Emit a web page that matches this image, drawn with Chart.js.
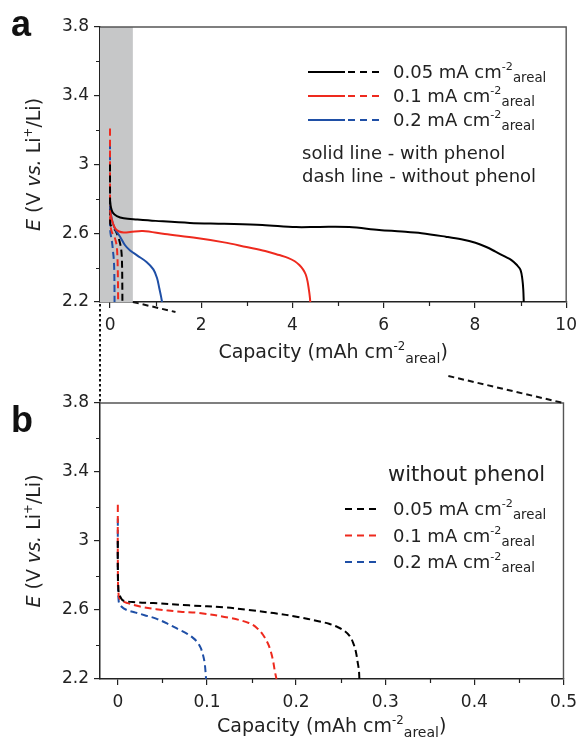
<!DOCTYPE html>
<html>
<head>
<meta charset="utf-8">
<script src="https://cdn.jsdelivr.net/npm/chart.js@4.4.1/dist/chart.umd.min.js"></script>
<style>
  html, body { margin: 0; padding: 0; background: #fff; }
  #wrap { position: relative; width: 584px; height: 740px; }
  canvas { position: absolute; left: 0; top: 0; }
</style>
</head>
<body>
<div id="wrap">
  <canvas id="chartA" width="584" height="740"></canvas>
  <canvas id="chartB" width="584" height="740"></canvas>
</div>
<script>
// current densities, mA cm-2 (areal)
const currents = ['0.05', '0.1', '0.2'];
const colors = ['#000000', '#ee2a1e', '#1f4fa6'];

// with phenol (solid lines, panel a)
const capSolid005 = [0, 0.02, 0.06, 0.15, 0.3, 0.6, 1.0, 1.75, 2.5, 3.34, 4.08, 4.6, 5.24, 5.9, 6.4, 6.83, 7.36, 7.7, 8.01, 8.25, 8.45, 8.65, 8.8, 8.92, 9.0, 9.04, 9.06, 9.07];
const eSolid005   = [2.79, 2.75, 2.72, 2.70, 2.687, 2.68, 2.672, 2.66, 2.655, 2.648, 2.636, 2.637, 2.636, 2.619, 2.61, 2.60, 2.58, 2.565, 2.545, 2.52, 2.493, 2.465, 2.444, 2.415, 2.386, 2.33, 2.27, 2.2];
const capSolid01  = [0, 0.02, 0.06, 0.12, 0.2, 0.3, 0.44, 0.72, 1.2, 1.9, 2.5, 2.99, 3.4, 3.71, 3.9, 4.05, 4.15, 4.23, 4.29, 4.33, 4.36, 4.38, 4.39];
const eSolid01    = [2.735, 2.70, 2.66, 2.625, 2.61, 2.605, 2.607, 2.613, 2.595, 2.572, 2.547, 2.52, 2.497, 2.473, 2.457, 2.437, 2.415, 2.39, 2.36, 2.32, 2.27, 2.23, 2.2];
const capSolid02  = [0, 0.02, 0.06, 0.12, 0.22, 0.33, 0.44, 0.6, 0.8, 0.95, 1.03, 1.08, 1.12, 1.14];
const eSolid02    = [2.76, 2.71, 2.66, 2.62, 2.58, 2.53, 2.50, 2.47, 2.433, 2.39, 2.34, 2.28, 2.23, 2.2];

// without phenol (dashed lines, panels a and b)
const capDash005 = [0, 0, 0.001, 0.003, 0.006, 0.02, 0.04, 0.08, 0.12, 0.147, 0.175, 0.202, 0.225, 0.237, 0.247, 0.254, 0.26, 0.264, 0.267, 0.269, 0.2705, 0.271];
const eDash005   = [3.0, 2.85, 2.70, 2.675, 2.655, 2.645, 2.64, 2.627, 2.615, 2.60, 2.582, 2.56, 2.535, 2.52, 2.50, 2.48, 2.45, 2.41, 2.36, 2.30, 2.25, 2.2];
const capDash01  = [0, 0, 0.001, 0.004, 0.011, 0.025, 0.043, 0.07, 0.091, 0.125, 0.147, 0.156, 0.163, 0.168, 0.171, 0.174, 0.176, 0.178];
const eDash01    = [3.21, 2.9, 2.68, 2.655, 2.64, 2.62, 2.605, 2.59, 2.583, 2.555, 2.525, 2.496, 2.455, 2.41, 2.37, 2.31, 2.25, 2.2];
const capDash02  = [0, 0, 0.001, 0.004, 0.01, 0.02, 0.03, 0.043, 0.056, 0.069, 0.077, 0.084, 0.089, 0.093, 0.0955, 0.0975, 0.099];
const eDash02    = [3.13, 2.85, 2.65, 2.62, 2.60, 2.585, 2.57, 2.55, 2.52, 2.485, 2.465, 2.44, 2.415, 2.38, 2.34, 2.29, 2.2];

// axes
const yTicks = [2.2, 2.6, 3.0, 3.4, 3.8];
const yMinor = [2.4, 2.8, 3.2, 3.6];
const xTicksA = [0, 2, 4, 6, 8, 10];
const xMinorA = [1, 3, 5, 7, 9];
const xTicksB = [0, 0.1, 0.2, 0.3, 0.4, 0.5];
const xMinorB = [0.05, 0.15, 0.25, 0.35, 0.45];

const FONT = '"DejaVu Sans", sans-serif';
const INK = '#222';

function fontFor(kind, size) {
  if (kind === 'sup') return (size * 0.62) + 'px ' + FONT;
  if (kind === 'sub') return (size * 0.74) + 'px ' + FONT;
  if (kind === 'i') return 'italic ' + size + 'px ' + FONT;
  return size + 'px ' + FONT;
}

// draws text made of [text, kind] parts, kind = n / i / sup / sub
function drawRich(ctx, parts, x, y, size, align) {
  ctx.save();
  ctx.fillStyle = INK;
  ctx.textBaseline = 'alphabetic';
  ctx.textAlign = 'left';
  let w = 0;
  parts.forEach(p => { ctx.font = fontFor(p[1], size); w += ctx.measureText(p[0]).width; });
  let cx = align === 'center' ? x - w / 2 : x;
  parts.forEach(p => {
    ctx.font = fontFor(p[1], size);
    const dy = p[1] === 'sup' ? -size * 0.42 : p[1] === 'sub' ? size * 0.24 : 0;
    ctx.fillText(p[0], cx, y + dy);
    cx += ctx.measureText(p[0]).width;
  });
  ctx.restore();
}

const unitParts = c => [[c + ' mA cm', 'n'], ['-2', 'sup'], ['areal', 'sub']];
const xTitle = [['Capacity (mAh cm', 'n'], ['-2', 'sup'], ['areal', 'sub'], [')', 'n']];
const yTitle = [['E', 'i'], [' (V ', 'n'], ['vs.', 'i'], [' Li', 'n'], ['+', 'sup'], ['/Li)', 'n']];

function line(cap, e, color, dashed) {
  return {
    data: cap.map((c, i) => ({ x: c, y: e[i] })),
    borderColor: color,
    borderWidth: 2,
    borderDash: dashed ? [7, 4] : [],
    pointRadius: 0,
    showLine: true,
    fill: false,
    tension: 0.35
  };
}

function axis(min, max, ticks, fitProp, fitVal, pad) {
  return {
    type: 'linear', min: min, max: max,
    afterBuildTicks: s => { s.ticks = ticks.map(v => ({ value: v })); },
    afterFit: s => { s[fitProp] = fitVal; },
    ticks: {
      font: { family: FONT, size: 17 }, color: INK, padding: pad,
      autoSkip: false, maxRotation: 0,
      callback: v => String(Math.round(v * 100) / 100)
    },
    grid: { display: true, drawOnChartArea: false, drawTicks: true, tickLength: 6, color: INK, lineWidth: 1.2 },
    border: { display: true, color: INK, width: 1.5 }
  };
}

function frame(chart, xMinor) {
  const { ctx, chartArea: a, scales: { x, y } } = chart;
  ctx.save();
  ctx.strokeStyle = INK;
  ctx.lineWidth = 1.2;
  ctx.beginPath();
  xMinor.forEach(v => {
    const px = Math.round(x.getPixelForValue(v)) + 0.5;
    ctx.moveTo(px, a.bottom); ctx.lineTo(px, a.bottom + 4);
  });
  yMinor.forEach(v => {
    const py = Math.round(y.getPixelForValue(v)) + 0.5;
    ctx.moveTo(a.left, py); ctx.lineTo(a.left - 4, py);
  });
  ctx.stroke();
  ctx.strokeStyle = '#555';
  ctx.lineWidth = 1.4;
  ctx.beginPath();
  ctx.moveTo(a.left, a.top); ctx.lineTo(a.right, a.top); ctx.lineTo(a.right, a.bottom);
  ctx.stroke();
  ctx.restore();
}

function titles(chart, label, labelY, titleOff) {
  const { ctx, chartArea: a } = chart;
  drawRich(ctx, xTitle, (a.left + a.right) / 2, a.bottom + titleOff, 19, 'center');
  ctx.save();
  ctx.translate(33, (a.top + a.bottom) / 2);
  ctx.rotate(-Math.PI / 2);
  drawRich(ctx, yTitle, 0, 7, 19, 'center');
  ctx.restore();
  ctx.save();
  ctx.fillStyle = '#111';
  ctx.font = 'bold 36px "Liberation Sans", sans-serif';
  ctx.textBaseline = 'alphabetic';
  ctx.fillText(label, 11, labelY);
  ctx.restore();
}

function legendLine(ctx, x0, x1, y, color, dashed) {
  ctx.save();
  ctx.strokeStyle = color;
  ctx.lineWidth = 2.2;
  ctx.setLineDash(dashed ? [7, 5] : []);
  ctx.beginPath(); ctx.moveTo(x0, y); ctx.lineTo(x1, y); ctx.stroke();
  ctx.restore();
}

const zoomMax = xTicksB[xTicksB.length - 1];

const chartA = new Chart(document.getElementById('chartA'), {
  type: 'scatter',
  data: {
    datasets: [
      line(capSolid005, eSolid005, colors[0], false),
      line(capSolid01, eSolid01, colors[1], false),
      line(capSolid02, eSolid02, colors[2], false),
      line(capDash005, eDash005, colors[0], true),
      line(capDash01, eDash01, colors[1], true),
      line(capDash02, eDash02, colors[2], true)
    ]
  },
  options: {
    responsive: false,
    animation: false,
    events: [],
    layout: { padding: { left: 0, top: 27, right: 16, bottom: 370 } },
    scales: {
      x: axis(-0.22, 10, xTicksA, 'height', 68, 7),
      y: axis(2.2, 3.8, yTicks, 'width', 100, 5)
    },
    plugins: { legend: { display: false }, tooltip: { enabled: false } }
  },
  plugins: [{
    id: 'panelA',
    beforeDatasetsDraw(chart) {
      const { ctx, chartArea: a, scales: { x } } = chart;
      ctx.save();
      ctx.fillStyle = '#c6c7c8';
      ctx.fillRect(a.left, a.top, x.getPixelForValue(zoomMax) - a.left, a.bottom - a.top);
      ctx.restore();
    },
    afterDraw(chart) {
      const ctx = chart.ctx;
      frame(chart, xMinorA);
      titles(chart, 'a', 36, 56);
      currents.forEach((c, i) => {
        const yy = 72 + i * 24;
        legendLine(ctx, 308, 345, yy, colors[i], false);
        legendLine(ctx, 348, 381, yy, colors[i], true);
        drawRich(ctx, unitParts(c), 393, yy + 6, 18, 'left');
      });
      drawRich(ctx, [['solid line - with phenol', 'n']], 302, 159, 18, 'left');
      drawRich(ctx, [['dash line - without phenol', 'n']], 302, 182, 18, 'left');
    }
  }]
});

const chartB = new Chart(document.getElementById('chartB'), {
  type: 'scatter',
  data: {
    datasets: [
      line(capDash005, eDash005, colors[0], true),
      line(capDash01, eDash01, colors[1], true),
      line(capDash02, eDash02, colors[2], true)
    ]
  },
  options: {
    responsive: false,
    animation: false,
    events: [],
    layout: { padding: { left: 0, top: 403, right: 16, bottom: 0 } },
    scales: {
      x: axis(-0.02, zoomMax, xTicksB, 'height', 61, 7),
      y: axis(2.2, 3.8, yTicks, 'width', 100, 5)
    },
    plugins: { legend: { display: false }, tooltip: { enabled: false } }
  },
  plugins: [{
    id: 'panelB',
    afterDraw(chart) {
      const ctx = chart.ctx;
      const A = chartA.chartArea, B = chart.chartArea;
      frame(chart, xMinorB);
      titles(chart, 'b', 432, 53);
      drawRich(ctx, [['without phenol', 'n']], 388, 481, 21, 'left');
      currents.forEach((c, i) => {
        const yy = 509 + i * 26.5;
        legendLine(ctx, 345, 381, yy, colors[i], true);
        drawRich(ctx, unitParts(c), 393, yy + 6, 18, 'left');
      });
      // zoom connectors between panels
      ctx.save();
      ctx.strokeStyle = '#111';
      ctx.lineWidth = 2;
      ctx.setLineDash([2.5, 2.5]);
      ctx.beginPath(); ctx.moveTo(A.left, A.bottom + 2); ctx.lineTo(B.left, B.top); ctx.stroke();
      const x0 = chartA.scales.x.getPixelForValue(zoomMax), y0 = A.bottom;
      const x1 = B.right, y1 = B.top;
      const at = yy => x0 + (x1 - x0) * (yy - y0) / (y1 - y0);
      const gapTop = y0 + 10, gapBot = y0 + 74;
      ctx.setLineDash([6, 4]);
      ctx.beginPath();
      ctx.moveTo(x0, y0); ctx.lineTo(at(gapTop), gapTop);
      ctx.moveTo(at(gapBot), gapBot); ctx.lineTo(x1, y1);
      ctx.stroke();
      ctx.restore();
    }
  }]
});
</script>
</body>
</html>
